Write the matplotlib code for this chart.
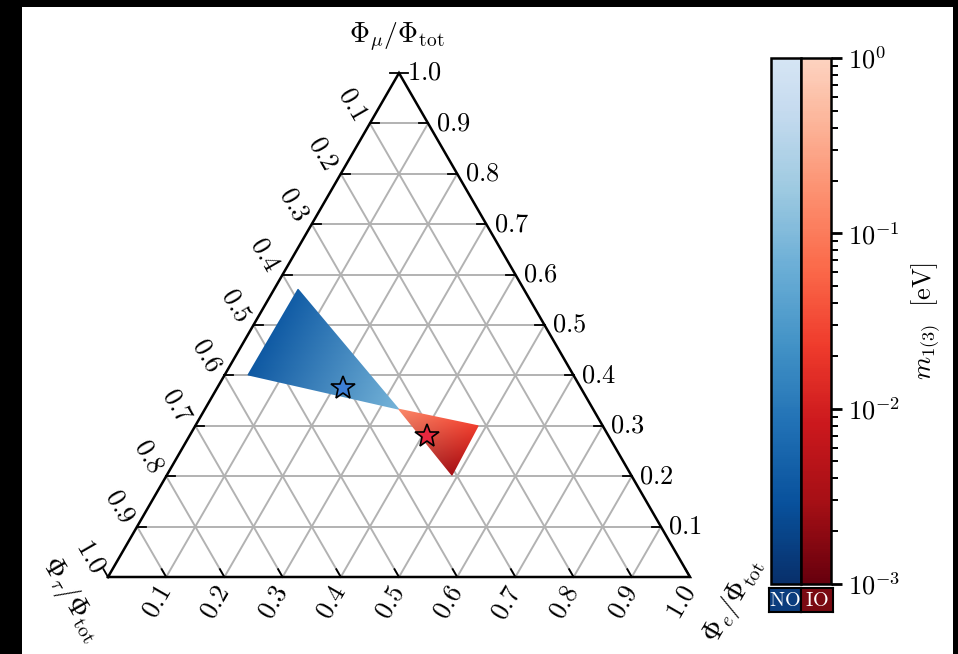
"""
Ternary plot of flavour ratios at Earth (NO / IO), coloured by the lightest mass.
Plain matplotlib, triangle drawn by hand.
"""

import matplotlib.pyplot as plt
import numpy as np
from matplotlib.cm import ScalarMappable
from matplotlib.colors import LinearSegmentedColormap, LogNorm
from matplotlib.patches import Rectangle
from matplotlib.ticker import NullLocator

plt.rcParams["mathtext.fontset"] = "cm"
plt.rcParams["font.family"] = "serif"
plt.rcParams["font.serif"] = ["cmr10", "DejaVu Serif"]
plt.rcParams["axes.unicode_minus"] = False

TICK_VALUES = [0.0, 0.1, 0.2, 0.3, 0.4, 0.5, 0.6, 0.7, 0.8, 0.9, 1.0]
TICK_LABELS = ["", "0.1", "0.2", "0.3", "0.4", "0.5", "0.6", "0.7", "0.8", "0.9", "1.0"]
GRID_VALUES = [0.1, 0.2, 0.3, 0.4, 0.5, 0.6, 0.7, 0.8, 0.9]

# allowed regions: corners as (f_e, f_mu) fractions, lightest mass m_1(3) in eV
NO_FE = [0.041, 0.040, 0.333]
NO_FMU = [0.571, 0.401, 0.333]
NO_M = [4.2e-3, 3.6e-3, 8.3e-2]
IO_FE = [0.333, 0.486, 0.490]
IO_FMU = [0.333, 0.300, 0.202]
IO_M = [1.5e-1, 2.4e-2, 2.8e-3]

# best-fit points (f_e, f_mu)
BEST_NO = (0.216, 0.375)
BEST_IO = (0.408, 0.280)

CBAR_TICKS = [1e-3, 1e-2, 1e-1, 1e0]
CBAR_LABELS = [r"$10^{-3}$", r"$10^{-2}$", r"$10^{-1}$", r"$10^{0}$"]

S3 = np.sqrt(3) / 2
FS = 19
FS_AX = 20


def to_xy(fe, fmu):
    fe = np.asarray(fe, dtype=float)
    fmu = np.asarray(fmu, dtype=float)
    return fe + fmu / 2, fmu * S3


def truncated(name, lo=0.17):
    base = plt.get_cmap(name)
    return LinearSegmentedColormap.from_list(name + "_r_trunc", base(np.linspace(1.0, lo, 256)))


def main() -> None:
    fig = plt.figure(figsize=(9.58, 6.54), dpi=100, facecolor="black")
    fig.patches.append(Rectangle((22 / 958, 0), 931 / 958, 647 / 654,
                                 transform=fig.transFigure, facecolor="white",
                                 edgecolor="none", zorder=-10))

    ax = fig.add_axes([108 / 958, 77 / 654, 582 / 958, 504 / 654])
    ax.set_xlim(0, 1)
    ax.set_ylim(0, S3)
    ax.axis("off")

    norm = LogNorm(1e-3, 1)
    cmap_no = truncated("Blues")
    cmap_io = truncated("Reds")

    # grid lines
    for v in GRID_VALUES:
        # f_mu = const
        x, y = to_xy([0, 1 - v], [v, v])
        ax.plot(x, y, color="#b2b2b2", lw=1.4, zorder=1)
        # f_e = const
        x, y = to_xy([v, v], [0, 1 - v])
        ax.plot(x, y, color="#b2b2b2", lw=1.4, zorder=1)
        # f_tau = const
        x, y = to_xy([1 - v, 0], [0, 1 - v])
        ax.plot(x, y, color="#b2b2b2", lw=1.4, zorder=1)

    # regions
    tri = [[0, 1, 2]]
    x, y = to_xy(NO_FE, NO_FMU)
    ax.tripcolor(x, y, tri, NO_M, shading="gouraud", cmap=cmap_no, norm=norm, zorder=2)
    x, y = to_xy(IO_FE, IO_FMU)
    ax.tripcolor(x, y, tri, IO_M, shading="gouraud", cmap=cmap_io, norm=norm, zorder=2)

    x, y = to_xy(*BEST_NO)
    ax.plot(x, y, marker="*", ms=18, mfc="#3d7fd6", mec="black", mew=1.2, zorder=4)
    x, y = to_xy(*BEST_IO)
    ax.plot(x, y, marker="*", ms=18, mfc="#e8283f", mec="black", mew=1.2, zorder=4)

    # triangle frame
    ax.plot([0, 1, 0.5, 0], [0, 0, S3, 0], color="black", lw=1.8, zorder=5,
            clip_on=False, solid_joinstyle="miter")

    tl = 0.0155
    off = 0.018
    for v, lab in zip(TICK_VALUES, TICK_LABELS):
        # right edge: f_mu
        x, y = to_xy(1 - v, v)
        ax.plot([x, x - tl], [y, y], color="black", lw=1.3, zorder=5, clip_on=False)
        if lab:
            ax.text(x + 0.013, y, f"${lab}$", fontsize=FS, ha="left", va="center")
        # left edge: f_tau
        x, y = to_xy(0, 1 - v)
        ax.plot([x, x + tl], [y, y], color="black", lw=1.3, zorder=5, clip_on=False)
        if lab:
            ax.text(x - off * 0.866, y + off * 0.5, f"${lab}$", fontsize=FS,
                    rotation=-60, rotation_mode="anchor", ha="right", va="center")
        # bottom edge: f_e
        x, y = to_xy(v, 0)
        ax.plot([x, x - tl * 0.5], [y, y + tl * S3], color="black", lw=1.3, zorder=5,
                clip_on=False)
        if lab:
            ax.text(x, y - off, f"${lab}$", fontsize=FS,
                    rotation=60, rotation_mode="anchor", ha="right", va="center")

    ax.text(0.497, 0.928, r"$\Phi_\mu/\Phi_{\rm tot}$", fontsize=FS_AX, ha="center", va="center")
    ax.text(-0.064, -0.038, r"$\Phi_\tau/\Phi_{\rm tot}$", fontsize=FS_AX, ha="center",
            va="center", rotation=-60)
    ax.text(1.076, -0.042, r"$\Phi_e/\Phi_{\rm tot}$", fontsize=FS_AX, ha="center",
            va="center", rotation=60)

    # two side-by-side colour bars
    cax_no = fig.add_axes([771 / 958, 70 / 654, 30 / 958, 526 / 654])
    cax_io = fig.add_axes([801 / 958, 70 / 654, 30 / 958, 526 / 654])
    cb_no = fig.colorbar(ScalarMappable(norm=norm, cmap=cmap_no), cax=cax_no)
    cb_io = fig.colorbar(ScalarMappable(norm=norm, cmap=cmap_io), cax=cax_io)
    cb_no.outline.set_linewidth(1.8)
    cb_io.outline.set_linewidth(1.8)
    cax_no.yaxis.set_major_locator(NullLocator())
    cax_no.yaxis.set_minor_locator(NullLocator())
    cax_io.set_yticks(CBAR_TICKS)
    cax_io.set_yticklabels(CBAR_LABELS, fontsize=FS)
    cax_io.tick_params(which="major", length=8, width=2, pad=4)
    cax_io.tick_params(which="minor", length=5, width=1.4)
    cax_io.set_ylabel(r"$m_{1(3)}\ \ [\mathrm{eV}]$", fontsize=FS, labelpad=7)

    for left, colour, name in [(769, "#0b3d7e", "NO"), (801, "#7a0a12", "IO")]:
        bax = fig.add_axes([left / 958, 42 / 654, 32 / 958, 24 / 654])
        bax.set_facecolor(colour)
        bax.set_xticks([])
        bax.set_yticks([])
        for sp in bax.spines.values():
            sp.set_linewidth(1.5)
        bax.text(0.5, 0.45, rf"$\mathrm{{{name}}}$", color="white", fontsize=14.5,
                 ha="center", va="center", transform=bax.transAxes)

    fig.savefig("out.png", dpi=100, facecolor=fig.get_facecolor())
    plt.close(fig)


if __name__ == "__main__":
    main()
